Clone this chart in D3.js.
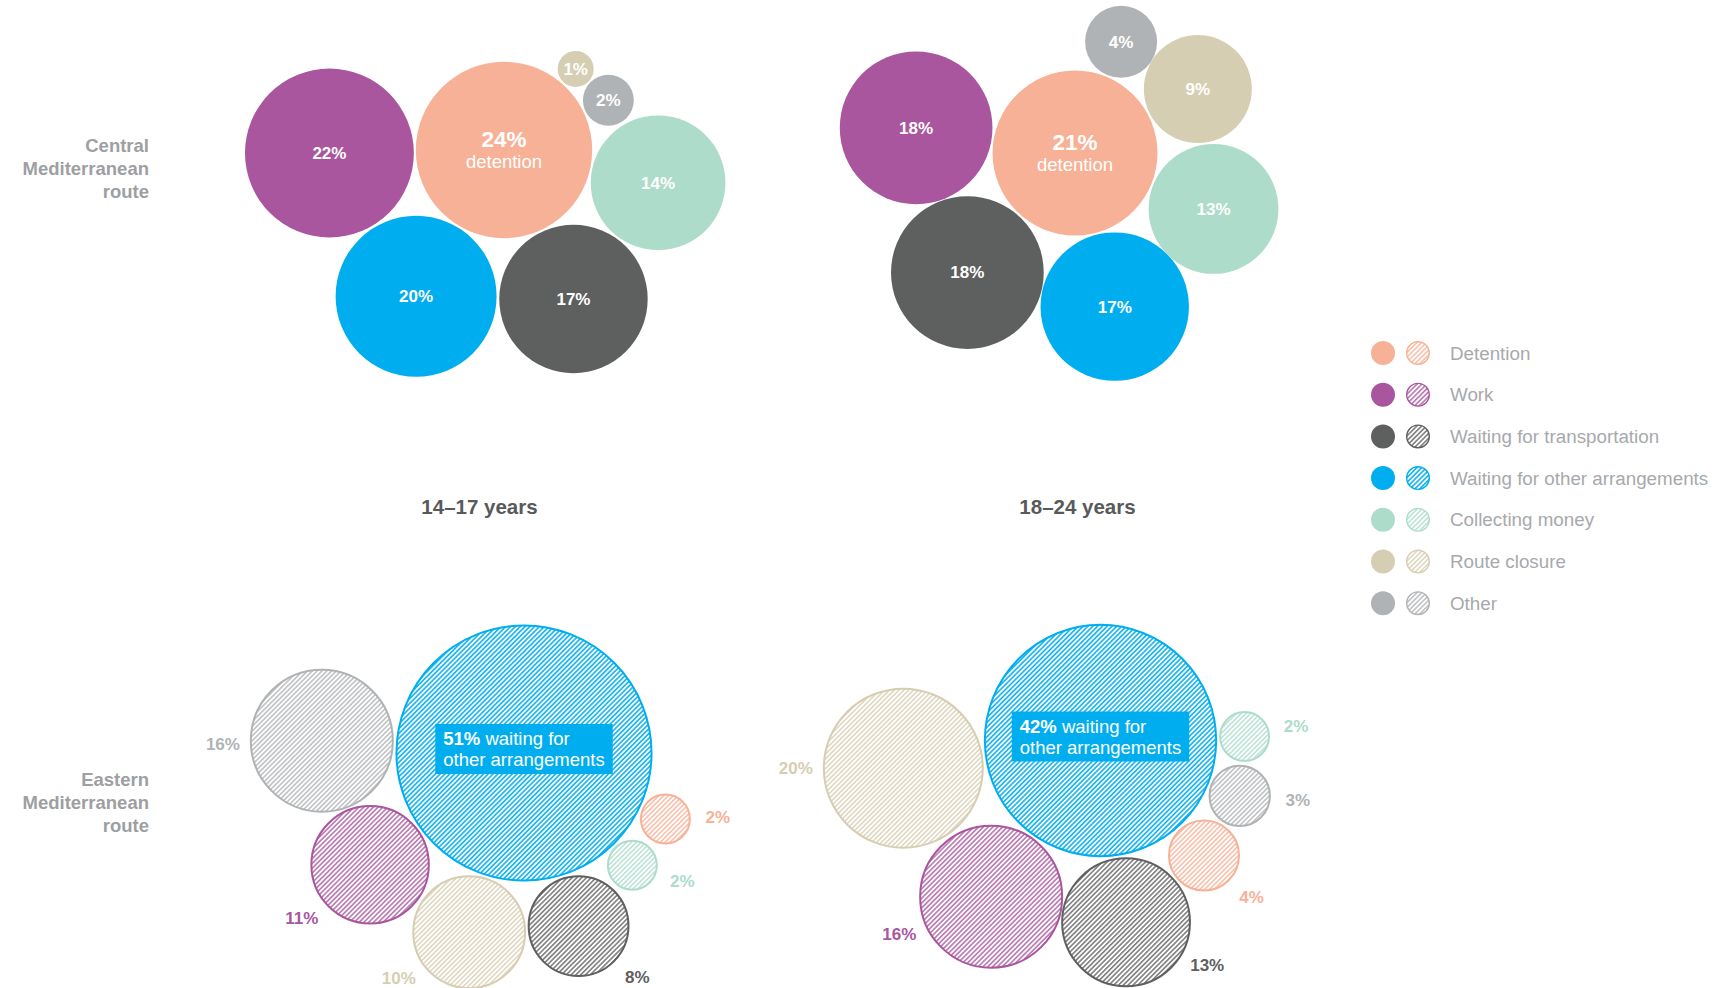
<!DOCTYPE html>
<html>
<head>
<meta charset="utf-8">
<script src="https://cdn.jsdelivr.net/npm/d3@7"></script>
<style>
  body { margin: 0; background: #fff; }
  svg { font-family: "Liberation Sans", Arial, sans-serif; }
</style>
</head>
<body>
<div class="chart-wrapper"></div>
<script>
// data, order follows the legend
const categories = ['Detention', 'Work', 'Waiting for transportation', 'Waiting for other arrangements', 'Collecting money', 'Route closure', 'Other']
const routes = ['Central Mediterranean route', 'Eastern Mediterranean route']
const routeLines = [['Central', 'Mediterranean', 'route'], ['Eastern', 'Mediterranean', 'route']]
const ageGroups = ['14–17 years', '18–24 years']

const central1417 = [24, 22, 17, 20, 14, 1, 2]
const central1824 = [21, 18, 18, 17, 13, 9, 4]
const eastern1417 = [2, 11, 8, 51, 2, 10, 16]
const eastern1824 = [4, 16, 13, 42, 2, 20, 3]

const colors = ['#f7b196', '#a9569f', '#5e605f', '#00aeef', '#addccb', '#d6ceb2', '#b0b3b5']

const width = 1731
const height = 988

// layout: which bubble sits in the middle, and at what angle the others touch it
const panels = [
    { route: 0, age: 0, values: central1417, hatched: false, anchor: 0, nudge: [24.5, -19],
      angles: [null, 179, 65, 121, 12, -48.5, -25.5] },
    { route: 0, age: 1, values: central1824, hatched: false, anchor: 0, nudge: [-2.5, -16],
      angles: [null, -171, 132, 75.5, 22, -27.5, -67.5] },
    { route: 1, age: 0, values: eastern1417, hatched: true, anchor: 3, nudge: [44.5, -50],
      angles: [25, 144, 72.5, null, 46, 107, 183.5],
      labelAngles: [-2, 142, 41, null, 18, 147, 178] },
    { route: 1, age: 1, values: eastern1824, hatched: true, anchor: 3, nudge: [23, -62.5],
      angles: [48, 125, 82, null, -1.6, 172, 21.7],
      labelAngles: [41, 158, 28, null, -11, 180, 4] }
]

const gap = 2
const labelGap = 27

let svg = d3.select('.chart-wrapper').append('svg')
    .attr('width', width)
    .attr('height', height)

// hatch patterns
let defs = svg.append('defs')
colors.forEach((c, i) => {
    defs.append('pattern')
        .attr('id', `hatch-${i}`)
        .attr('patternUnits', 'userSpaceOnUse')
        .attr('width', 3.4)
        .attr('height', 3.4)
        .attr('patternTransform', 'rotate(45)')
        .append('line')
        .attr('x1', 1.7).attr('y1', 0)
        .attr('x2', 1.7).attr('y2', 3.4)
        .attr('stroke', c)
        .attr('stroke-width', i === 3 ? 1.5 : 1.3)
})

let r = d3.scaleSqrt().domain([0, 100]).range([0, 180])
let x = d3.scalePoint().domain(ageGroups).range([479.5, 1077.5])
let y = d3.scalePoint().domain(routes).range([169, 803])

const rad = a => a * Math.PI / 180

// row labels
routes.forEach((rt, i) => {
    svg.append('text')
        .attr('x', 149)
        .attr('y', y(rt) - 17)
        .attr('text-anchor', 'end')
        .style('font-size', '18.5px')
        .style('font-weight', 700)
        .style('fill', '#9d9fa2')
        .selectAll('tspan')
        .data(routeLines[i])
        .enter().append('tspan')
        .attr('x', 149)
        .attr('dy', (d, j) => j === 0 ? 0 : 23)
        .text(d => d)
})

// column titles
svg.selectAll('.title')
    .data(ageGroups)
    .enter().append('text')
    .attr('class', 'title')
    .attr('x', d => x(d))
    .attr('y', 514)
    .attr('text-anchor', 'middle')
    .style('font-size', '20.5px')
    .style('font-weight', 700)
    .style('fill', '#58595b')
    .text(d => d)

let draw = function(p) {
    let ax = x(ageGroups[p.age]) + p.nudge[0]
    let ay = y(routes[p.route]) + p.nudge[1]
    let ra = r(p.values[p.anchor])

    let nodes = p.values.map((v, i) => {
        let rr = r(v)
        if (i === p.anchor) return { i, v, r: rr, x: ax, y: ay }
        let dist = ra + rr + gap
        return { i, v, r: rr, x: ax + dist * Math.cos(rad(p.angles[i])), y: ay + dist * Math.sin(rad(p.angles[i])) }
    })

    let g = svg.append('g')

    g.selectAll('circle')
        .data(nodes)
        .enter().append('circle')
        .attr('cx', d => d.x)
        .attr('cy', d => d.y)
        .attr('r', d => p.hatched ? d.r - 1 : d.r)
        .attr('fill', d => p.hatched ? `url(#hatch-${d.i})` : colors[d.i])
        .attr('stroke', d => p.hatched ? colors[d.i] : 'none')
        .attr('stroke-width', 2)

    if (!p.hatched) {
        // labels inside the bubbles
        g.selectAll('.val')
            .data(nodes.filter(d => d.i !== 0))
            .enter().append('text')
            .attr('x', d => d.x)
            .attr('y', d => d.y)
            .attr('dy', '0.35em')
            .attr('text-anchor', 'middle')
            .style('font-size', '17px')
            .style('font-weight', 700)
            .style('fill', '#fff')
            .text(d => d.v + '%')

        let det = nodes[0]
        g.append('text')
            .attr('x', det.x).attr('y', det.y - 3)
            .attr('text-anchor', 'middle')
            .style('font-size', '22.5px').style('font-weight', 700).style('fill', '#fff')
            .text(det.v + '%')
        g.append('text')
            .attr('x', det.x).attr('y', det.y + 18)
            .attr('text-anchor', 'middle')
            .style('font-size', '18.5px').style('fill', '#fff')
            .text('detention')
    } else {
        // labels outside the bubbles
        g.selectAll('.val')
            .data(nodes.filter(d => d.i !== p.anchor))
            .enter().append('text')
            .attr('x', d => d.x + (d.r + labelGap) * Math.cos(rad(p.labelAngles[d.i])))
            .attr('y', d => d.y + (d.r + labelGap) * Math.sin(rad(p.labelAngles[d.i])))
            .attr('dy', '0.35em')
            .attr('text-anchor', 'middle')
            .style('font-size', '17px')
            .style('font-weight', 700)
            .style('fill', d => colors[d.i])
            .text(d => d.v + '%')

        // callout box on the big bubble
        let big = nodes[p.anchor]
        let box = g.append('rect').attr('fill', colors[3])
        let t = g.append('text')
            .style('font-size', '18.5px')
            .style('fill', '#fff')
        let l1 = t.append('tspan').attr('x', 0).attr('y', 0)
        l1.append('tspan').style('font-weight', 700).text(big.v + '%')
        l1.append('tspan').text(' waiting for')
        t.append('tspan').attr('x', 0).attr('y', 21).text('other arrangements')
        let bb = t.node().getBBox()
        let bw = bb.width + 16
        let bx = big.x - bw / 2
        let by = big.y - 29
        box.attr('x', bx).attr('y', by).attr('width', bw).attr('height', 50)
        t.attr('transform', `translate(${bx + 8}, ${by + 21})`)
    }
}

panels.forEach(draw)

// legend
let legend = svg.append('g')
    .selectAll('g')
    .data(categories)
    .enter().append('g')
    .attr('transform', (d, i) => `translate(0, ${353 + i * 41.7})`)

legend.append('circle')
    .attr('cx', 1383).attr('r', 12)
    .attr('fill', (d, i) => colors[i])

legend.append('circle')
    .attr('cx', 1418).attr('r', 11.3)
    .attr('fill', (d, i) => `url(#hatch-${i})`)
    .attr('stroke', (d, i) => colors[i])
    .attr('stroke-width', 1.4)

legend.append('text')
    .attr('x', 1450)
    .attr('dy', '0.35em')
    .style('font-size', '18.8px')
    .style('fill', '#a7a9ac')
    .text(d => d)
</script>
</body>
</html>
